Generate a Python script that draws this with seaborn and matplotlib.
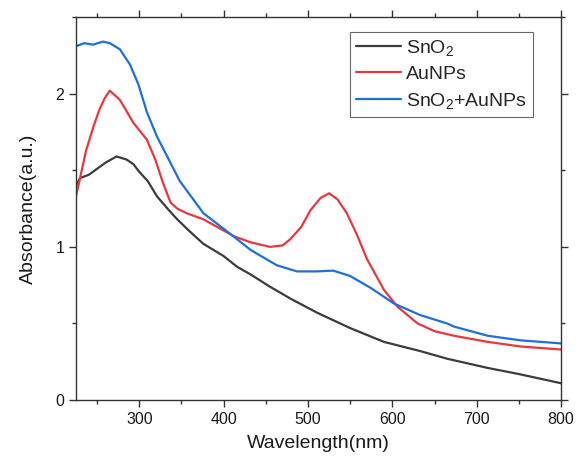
import matplotlib
matplotlib.use('Agg')
import matplotlib.pyplot as plt
import seaborn as sns
import numpy as np
import pandas as pd
from matplotlib.ticker import MultipleLocator

# 数据
sno2_wl = [225, 230, 240, 250, 260, 273, 285, 293, 300, 310, 321, 335, 345, 360,
           376, 400, 416, 432, 455, 480, 511, 550, 590, 633, 665, 713, 750, 800]
sno2_abs = [1.40, 1.45, 1.47, 1.51, 1.55, 1.59, 1.57, 1.54, 1.49, 1.43, 1.33, 1.24,
            1.18, 1.10, 1.02, 0.94, 0.87, 0.82, 0.74, 0.66, 0.57, 0.47, 0.38, 0.32,
            0.27, 0.21, 0.17, 0.11]

au_wl = [225, 237, 246, 253, 259, 265, 277, 293, 309, 319, 328, 337, 345, 356, 376,
         412, 432, 455, 470, 479, 492, 503, 515, 525, 535, 546, 558, 570, 590, 606,
         630, 650, 673, 713, 752, 800]
au_abs = [1.33, 1.63, 1.79, 1.90, 1.97, 2.02, 1.96, 1.81, 1.70, 1.57, 1.42, 1.29,
          1.25, 1.22, 1.18, 1.07, 1.03, 1.00, 1.01, 1.05, 1.13, 1.24, 1.32, 1.35,
          1.31, 1.22, 1.08, 0.92, 0.72, 0.61, 0.50, 0.45, 0.42, 0.38, 0.35, 0.33]

mix_wl = [225, 235, 245, 257, 265, 277, 289, 299, 309, 321, 335, 348, 376, 416, 432,
          463, 487, 510, 530, 550, 575, 602, 633, 665, 673, 713, 752, 800]
mix_abs = [2.31, 2.33, 2.32, 2.34, 2.33, 2.29, 2.19, 2.06, 1.88, 1.72, 1.57, 1.43,
           1.22, 1.05, 0.98, 0.88, 0.84, 0.84, 0.845, 0.81, 0.73, 0.63, 0.555, 0.50,
           0.48, 0.42, 0.39, 0.37]

labels = ['SnO$_2$', 'AuNPs', 'SnO$_2$+AuNPs']
colors = ['#3c3c3c', '#e8383d', '#1f6fde']

df = pd.concat([
    pd.DataFrame({'wl': sno2_wl, 'abs': sno2_abs, 'sample': labels[0]}),
    pd.DataFrame({'wl': au_wl, 'abs': au_abs, 'sample': labels[1]}),
    pd.DataFrame({'wl': mix_wl, 'abs': mix_abs, 'sample': labels[2]}),
])

sns.set_theme(style='ticks')
plt.rcParams['font.family'] = ['Liberation Sans', 'DejaVu Sans']
plt.rcParams['mathtext.fontset'] = 'custom'
plt.rcParams['mathtext.rm'] = 'Liberation Sans'
plt.rcParams['mathtext.it'] = 'Liberation Sans'

fig = plt.figure(figsize=(5.82, 4.62), dpi=100)
ax = fig.add_axes([0.1306, 0.134, 0.8334, 0.829])

sns.lineplot(data=df, x='wl', y='abs', hue='sample', palette=colors,
             estimator=None, sort=False, linewidth=1.6, ax=ax)

ax.set_xlim(225, 800)
ax.set_ylim(0, 2.5)
ax.xaxis.set_major_locator(MultipleLocator(100))
ax.xaxis.set_minor_locator(MultipleLocator(50))
ax.yaxis.set_major_locator(MultipleLocator(1))
ax.yaxis.set_minor_locator(MultipleLocator(0.5))
ax.tick_params(which='both', direction='out', top=True, right=True,
               labeltop=False, labelright=False, colors='#333333',
               labelcolor='#1a1a1a', labelsize=11.5, width=1)
ax.tick_params(which='major', length=5)
ax.tick_params(which='minor', length=3)
for sp in ax.spines.values():
    sp.set_color('#333333')
    sp.set_linewidth(1)

ax.set_xlabel('Wavelength(nm)', fontsize=14, color='#1a1a1a', labelpad=6)
ax.set_ylabel('Absorbance(a.u.)', fontsize=14, color='#1a1a1a', labelpad=13)

leg = ax.legend(loc='upper right', bbox_to_anchor=(0.942, 0.961), fontsize=14,
                frameon=True, fancybox=False, handlelength=2.3,
                labelspacing=0.4, borderpad=0.3, borderaxespad=0,
                handletextpad=0.3)
leg.get_frame().set_edgecolor('#444444')
leg.get_frame().set_linewidth(0.8)
leg.set_title(None)

fig.savefig('out.png', dpi=100)
